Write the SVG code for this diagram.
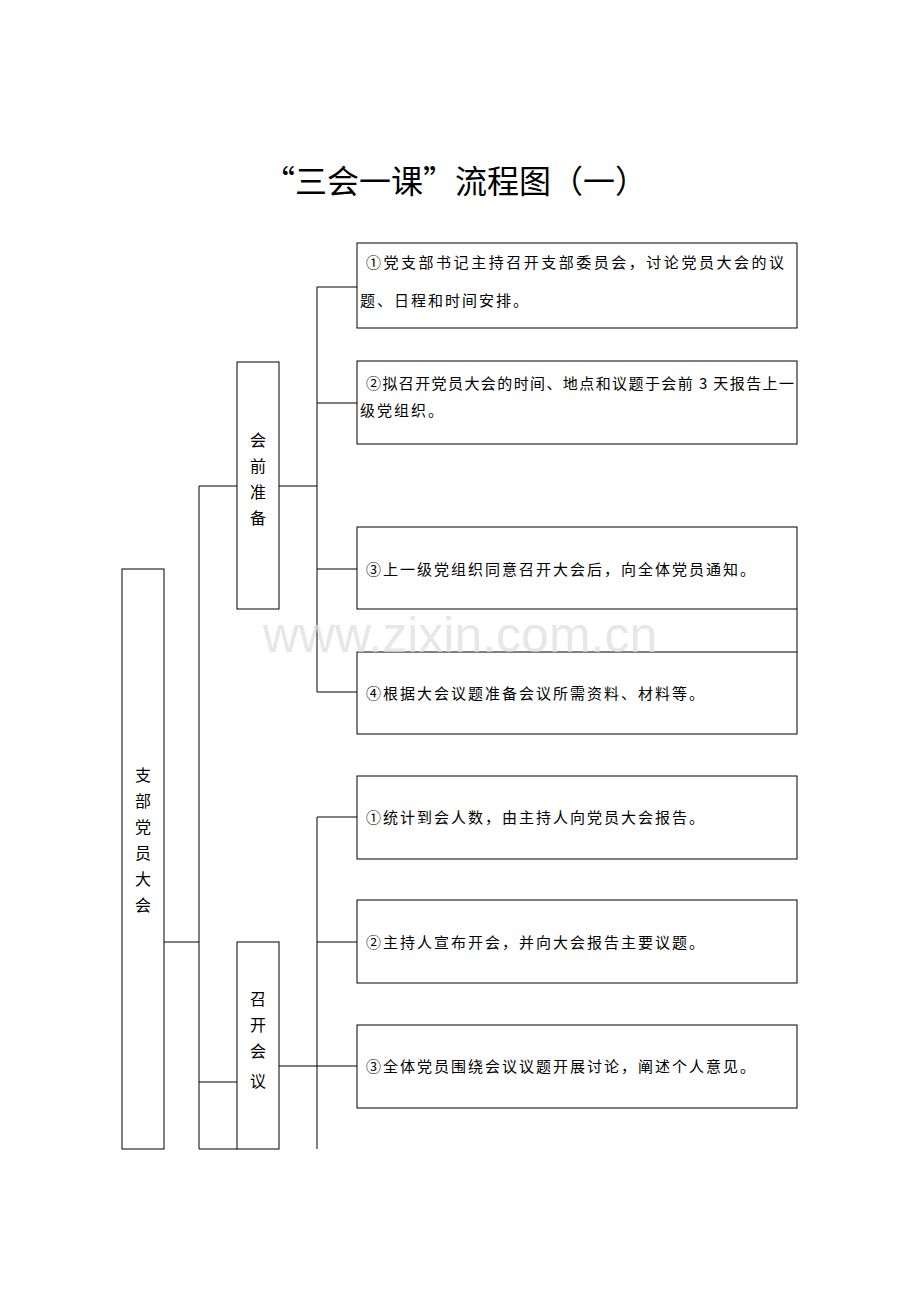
<svg xmlns="http://www.w3.org/2000/svg" width="920" height="1302" viewBox="0 0 920 1302">
<style>
.b{fill:#fff;stroke:#000;stroke-width:1}
.l{stroke:#000;stroke-width:1;fill:none}
.t{font-family:"Noto Sans CJK SC","Liberation Serif",serif;font-size:15px;fill:#000;letter-spacing:2px}
.v{font-family:"Noto Sans CJK SC",serif;font-size:16px;fill:#000;text-anchor:middle}
</style>
<rect width="920" height="1302" fill="#fff"/>
<text x="455" y="193" text-anchor="middle" font-family="Noto Sans CJK SC,sans-serif" font-size="32" fill="#000">“三会一课”流程图（一）</text>
<g id="connectors">
<path class="l" d="M164 942H199M199 486V1149M199 486H237M199 1082H237M199 1149H237M279 486H317M317 287V692M317 287H357M317 403H357M317 569H357M317 692H357M797 609V652M317 817V1149M317 817H357M317 942H357M279 1066H357"/>
</g>
<g id="root"><rect class="b" x="122" y="569" width="42" height="580"/>
<text class="v" x="143" y="781">支</text><text class="v" x="143" y="807">部</text><text class="v" x="143" y="833">党</text><text class="v" x="143" y="859">员</text><text class="v" x="143" y="885">大</text><text class="v" x="143" y="911">会</text></g>
<g id="prep"><rect class="b" x="237" y="362" width="42" height="247"/>
<text class="v" x="258" y="446">会</text><text class="v" x="258" y="472">前</text><text class="v" x="258" y="498">准</text><text class="v" x="258" y="524">备</text></g>
<g id="meet"><rect class="b" x="237" y="942" width="42" height="207"/>
<text class="v" x="258" y="1005">召</text><text class="v" x="258" y="1031">开</text><text class="v" x="258" y="1057">会</text><text class="v" x="258" y="1087">议</text></g>
<g id="p1"><rect class="b" x="357" y="243" width="440" height="85"/>
<text class="t" x="366" y="268" textLength="420" lengthAdjust="spacing">①党支部书记主持召开支部委员会，讨论党员大会的议</text>
<text class="t" x="360" y="306">题、日程和时间安排。</text></g>
<g id="p2"><rect class="b" x="357" y="361" width="440" height="83"/>
<text class="t" x="366" y="389" textLength="430" lengthAdjust="spacing">②拟召开党员大会的时间、地点和议题于会前 3 天报告上一</text>
<text class="t" x="360" y="416">级党组织。</text></g>
<g id="p3"><rect class="b" x="357" y="527" width="440" height="82"/>
<text class="t" x="366" y="575">③上一级党组织同意召开大会后，向全体党员通知。</text></g>
<g id="p4"><rect class="b" x="357" y="652" width="440" height="82"/>
<text class="t" x="366" y="699">④根据大会议题准备会议所需资料、材料等。</text></g>
<g id="m1"><rect class="b" x="357" y="776" width="440" height="83"/>
<text class="t" x="366" y="823">①统计到会人数，由主持人向党员大会报告。</text></g>
<g id="m2"><rect class="b" x="357" y="900" width="440" height="83"/>
<text class="t" x="366" y="948">②主持人宣布开会，并向大会报告主要议题。</text></g>
<g id="m3"><rect class="b" x="357" y="1025" width="440" height="83"/>
<text class="t" x="366" y="1072">③全体党员围绕会议议题开展讨论，阐述个人意见。</text></g>
<text x="460" y="652" text-anchor="middle" font-family="Liberation Sans,sans-serif" font-size="50" fill="#ddd" fill-opacity="0.7">www.zixin.com.cn</text>
</svg>
